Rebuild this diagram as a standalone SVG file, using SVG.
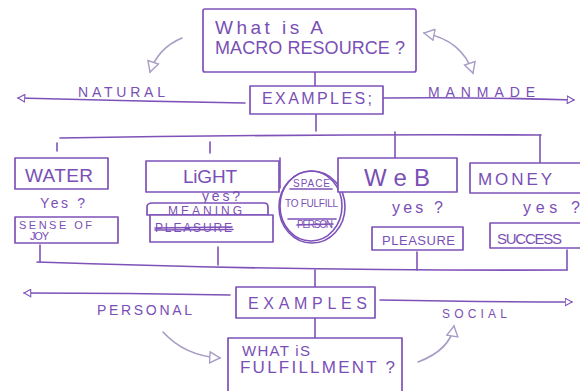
<svg xmlns="http://www.w3.org/2000/svg" width="580" height="391" viewBox="0 0 580 391">
<defs>
<style>
.ln{fill:none;stroke:#7e52b8;stroke-width:1.6;stroke-linecap:round;stroke-linejoin:round}
.lt{fill:none;stroke:#a89cc6;stroke-width:1.6;stroke-linecap:round;stroke-linejoin:round}
.bx{fill:#fff;stroke:#7e52b8;stroke-width:1.7;stroke-linejoin:round}
.t{font-family:"Liberation Sans","DejaVu Sans",sans-serif;fill:#7a4fb5;font-weight:normal}
</style>
<marker id="oa" viewBox="0 0 12 12" refX="10" refY="6" markerWidth="9" markerHeight="9" orient="auto-start-reverse" markerUnits="userSpaceOnUse">
<path d="M1,1 L10,6 L1,11 Z" fill="#fff" stroke="#7e52b8" stroke-width="1.4"/>
</marker>
<marker id="ol" viewBox="0 0 14 14" refX="12" refY="7" markerWidth="13" markerHeight="13" orient="auto-start-reverse" markerUnits="userSpaceOnUse">
<path d="M1,1 L12,7 L1,13 Z" fill="#fff" stroke="#a89cc6" stroke-width="1.5"/>
</marker>
</defs>
<rect width="580" height="391" fill="#fff"/>

<g id="connectors">
<path class="ln" d="M315,72 L315,86"/>
<path class="ln" d="M316,113 L316,131"/>
<path class="ln" d="M245,103 Q130,101 18,98" marker-end="url(#oa)"/>
<path class="ln" d="M383,98 Q480,97 574,100" marker-end="url(#oa)"/>
<path class="lt" d="M182,38 Q158,48 150,72" marker-end="url(#ol)"/>
<path class="lt" d="M424,33 Q462,40 473,73" marker-start="url(#ol)" marker-end="url(#ol)"/>
<path class="ln" d="M60,138 Q300,134 541,135"/>
<path class="ln" d="M57,143 L57,151"/>
<path class="ln" d="M210,142 L210,153"/>
<path class="ln" d="M395,132 L395,158"/>
<path class="ln" d="M540,135 L540,163"/>
<path class="ln" d="M37,262 Q290,271 567,270"/>
<path class="ln" d="M40,245 L40,262"/>
<path class="ln" d="M218,247 L218,265"/>
<path class="ln" d="M417,252 L417,270"/>
<path class="ln" d="M567,250 L567,270"/>
<path class="ln" d="M315,270 L315,287"/>
<path class="ln" d="M230,295 Q130,293 24,293" marker-end="url(#oa)"/>
<path class="ln" d="M380,300 Q480,302 572,302" marker-end="url(#oa)"/>
<path class="ln" d="M315,318 L315,338"/>
<path class="lt" d="M163,332 Q185,356 220,358" marker-end="url(#ol)"/>
<path class="lt" d="M418,362 Q450,350 454,326" marker-end="url(#ol)"/>
<path class="ln" d="M280,158 L280,188"/>
<path class="ln" d="M340,190 L358,190"/>
</g>

<g id="macro-resource">
<rect class="bx" x="203" y="9" width="213" height="63" rx="2"/>
<text class="t" x="215" y="34" font-size="19" textLength="108" lengthAdjust="spacing">What is A</text>
<text class="t" x="215" y="54" font-size="18" textLength="190" lengthAdjust="spacing">MACRO RESOURCE ?</text>
</g>

<g id="examples-top">
<rect class="bx" x="250" y="86" width="133" height="28"/>
<text class="t" x="262" y="104" font-size="16" textLength="110" lengthAdjust="spacing">EXAMPLES;</text>
</g>

<text class="t" x="78" y="97" font-size="14" textLength="87" lengthAdjust="spacing">NATURAL</text>
<text class="t" x="428" y="97" font-size="14" textLength="107" lengthAdjust="spacing">MANMADE</text>

<g id="water">
<rect class="bx" x="15" y="158" width="93" height="31"/>
<text class="t" x="25" y="182" font-size="19" textLength="68" lengthAdjust="spacing">WATER</text>
<text class="t" x="40" y="208" font-size="14" textLength="45" lengthAdjust="spacing">Yes ?</text>
</g>
<g id="sense-of-joy">
<rect class="bx" x="15" y="217" width="103" height="26"/>
<text class="t" x="19" y="229" font-size="11" textLength="73" lengthAdjust="spacing">SENSE OF</text>
<text class="t" x="30" y="240" font-size="11" textLength="19" lengthAdjust="spacing">JOY</text>
</g>

<g id="light">
<rect class="bx" x="146" y="161" width="133" height="31"/>
<text class="t" x="183" y="183" font-size="19" textLength="54" lengthAdjust="spacing">LiGHT</text>
<text class="t" x="202" y="201" font-size="14" textLength="38" lengthAdjust="spacing">yes?</text>
</g>
<g id="meaning">
<path class="bx" d="M147,215 L147,206 Q148,203 152,203 L264,203 Q268,203 268,207 L268,215 Z"/>
<text class="t" x="168" y="215" font-size="12" textLength="74" lengthAdjust="spacing">MEANING</text>
</g>
<g id="pleasure-struck">
<rect class="bx" x="150" y="215" width="123" height="27"/>
<text class="t" x="155" y="232" font-size="12" textLength="77" lengthAdjust="spacing">PLEASURE</text>
<path class="ln" d="M155,228 L232,227 M155,230 L233,229.5"/>
</g>

<g id="space-to-fulfill">
<ellipse class="ln" cx="312" cy="207" rx="33" ry="36" stroke-width="1.8"/>
<ellipse class="ln" cx="311" cy="206" rx="31" ry="35" stroke-width="1.2"/>
<text class="t" x="293" y="187" font-size="10" textLength="37" lengthAdjust="spacing">SPACE</text>
<path class="ln" d="M290,189 L332,189"/>
<text class="t" x="285" y="207" font-size="10" textLength="53" lengthAdjust="spacing">TO FULFILL</text>
<path class="ln" d="M288,219 L336,219"/>
<text class="t" x="297" y="228" font-size="10" textLength="36" lengthAdjust="spacing">PERSON</text>
<path class="ln" d="M297,225 L333,224"/>
</g>

<g id="web">
<rect class="bx" x="338" y="158" width="119" height="34"/>
<text class="t" x="364" y="186" font-size="24" textLength="66" lengthAdjust="spacing">WeB</text>
<text class="t" x="392" y="213" font-size="16" textLength="51" lengthAdjust="spacing">yes ?</text>
</g>
<g id="pleasure">
<rect class="bx" x="372" y="227" width="91" height="23"/>
<text class="t" x="382" y="245" font-size="13" textLength="73" lengthAdjust="spacing">PLEASURE</text>
</g>

<g id="money">
<rect class="bx" x="470" y="163" width="112" height="30"/>
<text class="t" x="478" y="185" font-size="17" textLength="74" lengthAdjust="spacing">MONEY</text>
<text class="t" x="523" y="213" font-size="16" textLength="57" lengthAdjust="spacing">yes ?</text>
</g>
<g id="success">
<rect class="bx" x="490" y="223" width="93" height="25"/>
<text class="t" x="497" y="244" font-size="15" textLength="65" lengthAdjust="spacing">SUCCESS</text>
</g>

<g id="examples-bottom">
<rect class="bx" x="236" y="287" width="139" height="31"/>
<text class="t" x="248" y="309" font-size="16" textLength="119" lengthAdjust="spacing">EXAMPLES</text>
</g>
<text class="t" x="97" y="315" font-size="14" textLength="95" lengthAdjust="spacing">PERSONAL</text>
<text class="t" x="442" y="318" font-size="12" textLength="65" lengthAdjust="spacing">SOCIAL</text>

<g id="fulfillment">
<rect class="bx" x="228" y="338" width="174" height="55"/>
<text class="t" x="242" y="356" font-size="15" textLength="68" lengthAdjust="spacing">WHAT iS</text>
<text class="t" x="240" y="373" font-size="17" textLength="155" lengthAdjust="spacing">FULFILLMENT ?</text>
</g>
</svg>
